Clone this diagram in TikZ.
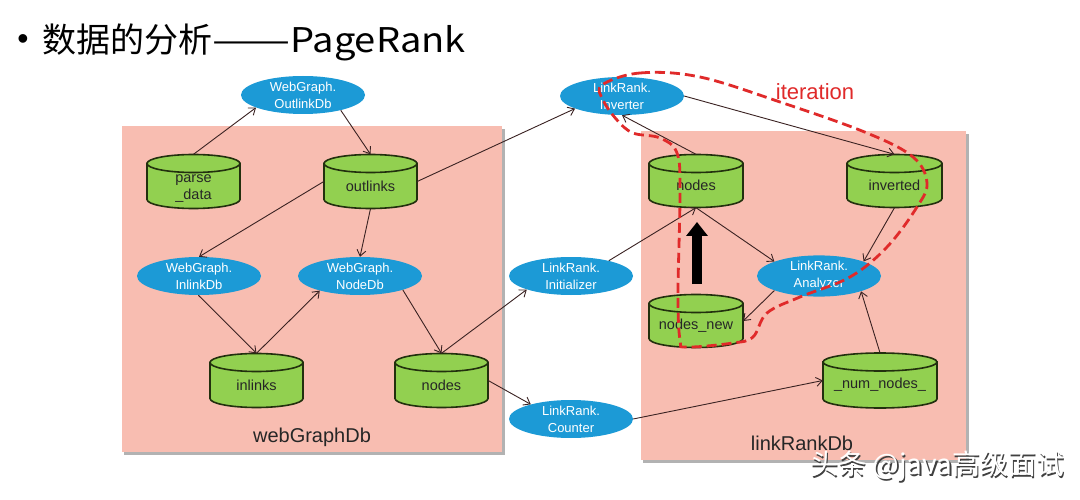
\documentclass[tikz,border=0pt]{standalone}
\usepackage{fontspec}
\usepackage{graphicx}
\setmainfont{Liberation Sans}
\newfontfamily\cjk{Noto Sans CJK SC}
\usetikzlibrary{shapes.geometric,arrows.meta,calc}
\definecolor{boxpink}{HTML}{F8BDB1}
\definecolor{cylgreen}{HTML}{92D050}
\definecolor{cyledge}{HTML}{22300E}
\definecolor{elblue}{HTML}{1C9AD6}
\definecolor{arrowc}{HTML}{3A2222}
\definecolor{iterred}{HTML}{E02A2A}
% database cylinder: [text offset] name, x, y, width, height, text
\newcommand\dbcyl[7][4.5]{%
  \pgfmathsetmacro\dbhw{#5/2}\pgfmathsetmacro\dbhh{#6/2}%
  \filldraw[dbline] (#3-\dbhw,#4-\dbhh+9) -- (#3-\dbhw,#4+\dbhh-9)
     arc[start angle=180, end angle=0, x radius=\dbhw, y radius=9]
     -- (#3+\dbhw,#4-\dbhh+9) -- cycle;
  \filldraw[dbline] (#3,#4-\dbhh+9) ellipse[x radius=\dbhw, y radius=9];
  \node[dbbox, minimum width=#5, minimum height=#6] (#2) at (#3,#4) {};
  \node[dbtext] (#2-text) at (#3,#4+#1) {#7};
}
\begin{document}
\begin{tikzpicture}[x=1pt,y=-1pt,
  dbline/.style={draw=cyledge, line width=1.6pt, fill=cylgreen},
  dbbox/.style={rectangle, draw=none, inner sep=0pt},
  dbtext/.style={font=\fontsize{14.5}{17}\selectfont, align=center, text=black!85, inner sep=0pt},
  proc/.style={ellipse, fill=elblue, draw=none, minimum width=124pt, minimum height=38pt,
    inner sep=0pt, text=white, font=\fontsize{13}{17}\selectfont, align=center},
  conn/.style={draw=arrowc, line width=0.9pt, -{Straight Barb[length=6pt,width=9pt]}},
  region/.style={fill=boxpink, draw=none},
  shade/.style={fill=black!30, draw=none},
  regionlabel/.style={font=\fontsize{20}{24}\selectfont, text=black!85},
]
\useasboundingbox (0,0) rectangle (1080,500);
\fill[white] (0,0) rectangle (1080,500);

% title
\node (bullet) at (23,42) {\fontsize{32}{36}\selectfont •};
\node[anchor=west, inner sep=0pt] (title) at (42,42)
  {\cjk\fontsize{34}{40}\selectfont 数据的分析\scalebox{1.37}[1]{——}\scalebox{1.12}[1]{PageRank}};

% regions
\fill[shade] (124,129) rectangle (505,455);
\fill[region] (122,126) rectangle (502,452);
\fill[shade] (643,134) rectangle (969,463);
\fill[region] (641,131) rectangle (966,460);
\node[regionlabel] (lw) at (312,437) {webGraphDb};
\node[regionlabel] (lr) at (802,443) {linkRankDb};

% databases
\dbcyl[7]{parse}{193.5}{181.5}{93}{54}{parse\\\_data}
\dbcyl{outlinks}{370.5}{181.5}{93}{54}{outlinks}
\dbcyl{inlinks}{256.5}{380.5}{93}{54}{inlinks}
\dbcyl{nodesL}{441.5}{380.5}{93}{54}{nodes}
\dbcyl{nodesR}{696}{181}{94}{53}{nodes}
\dbcyl{inverted}{894.5}{181}{95}{53}{inverted}
\dbcyl{nodesnew}{696}{321}{94}{53}{nodes\_new}
\dbcyl{numnodes}{880}{380.5}{114}{55}{\_num\_nodes\_}

% processes
\node[proc] (outdb) at (303,95) {WebGraph.\\OutlinkDb};
\node[proc] (indb) at (199,276) {WebGraph.\\InlinkDb};
\node[proc] (nodedb) at (360,276) {WebGraph.\\NodeDb};
\node[proc] (inverter) at (622,96) {LinkRank.\\Inverter};
\node[proc] (init) at (571,276) {LinkRank.\\Initializer};
\node[proc] (counter) at (571,419) {LinkRank.\\Counter};
\node[proc] (analyzer) at (819,276) {LinkRank.\\Analyzer};

% connectors
\draw[conn] (parse.north) -- (outdb.195);
\draw[conn] (outdb.338) -- (outlinks.north);
\draw[conn] (outlinks.west) -- (indb.north);
\draw[conn] (outlinks.south) -- (nodedb.north);
\draw[conn] (indb.268) -- (inlinks.north);
\draw[conn] (inlinks.north) -- (nodedb.200);
\draw[conn] (nodedb.342) -- (nodesL.north);
\draw[conn] (outlinks.east) -- (inverter.195);
\draw[conn] (nodesL.north) -- (init.197);
\draw[conn] (nodesL.east) -- (counter.160);
\draw[conn] (counter.east) -- (numnodes.west);
\draw[conn] (init.22) -- (nodesR.south);
\draw[conn] (nodesR.north) -- (inverter.south);
\draw[conn] (inverter.east) -- (inverted.north);
\draw[conn] (nodesR.south) -- (analyzer.162);
\draw[conn] (inverted.south) -- (analyzer.18);
\draw[conn] (analyzer.198) -- (nodesnew.east);
\draw[conn] (numnodes.north) -- (analyzer.340);

% big black arrow
\coordinate (bigA) at (697,284);
\coordinate (bigB) at (697,222);
\draw[line width=10pt, -{Triangle[length=14pt,width=21pt]}] (bigA) -- (bigB);

% iteration loop
\draw[iterred, line width=2.8pt, dash pattern=on 10pt off 5pt]
  plot[smooth cycle, tension=0.6] coordinates {(602,85) (640,73) (700,77) (783,103) (867,133)
  (913,157) (927,183) (917,207) (887,247) (850,277) (800,297) (767,313) (753,337) (733,343)
  (687,347) (680,340) (678,293) (680,193) (677,153) (660,138) (633,133) (617,120) (603,100)};
\node[text=iterred, font=\fontsize{22}{26}\selectfont] (iter) at (815,92) {iteration};

% watermark
\node[text=black!75, font=\cjk\fontsize{28}{30}\selectfont] (wmshadow) at (938.8,467.8) {头条 @java高级面试};
\node[text=white, font=\cjk\fontsize{28}{30}\selectfont] (wm) at (937.5,466.5) {头条 @java高级面试};
\end{tikzpicture}
\end{document}
